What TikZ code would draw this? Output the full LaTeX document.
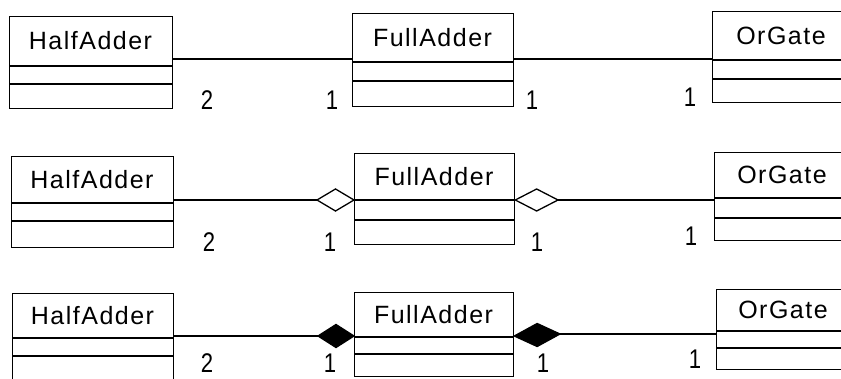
\documentclass[tikz,border=0pt]{standalone}
\usepackage{fontspec}
\setmainfont{Liberation Sans}
\newfontfamily\classfont[LetterSpace=6]{Liberation Sans}
\newfontfamily\multfont[FakeStretch=0.82]{Liberation Sans}
\usetikzlibrary{calc}

\tikzset{
  classframe/.style={draw, line width=1.3pt, inner sep=0pt, rectangle},
  classline/.style={line width=1.3pt},
  classname/.style={font=\classfont\fontsize{25}{30}\selectfont, inner sep=0pt},
  mult/.style={font=\multfont\fontsize{27}{32}\selectfont, inner sep=0pt},
  assoc/.style={line width=1.3pt},
  diamondline/.style={line width=1.3pt, line join=miter},
}

% class box: name, left, top, right, first divider, second divider, bottom, label
\newcommand{\classbox}[8]{%
  \node[classframe, minimum width={#4-#2}, minimum height={#7-#3}, anchor=north west] (#1) at (#2,#3) {};
  \draw[classline] (#2,#5) -- (#4,#5);
  \draw[classline] (#2,#6) -- (#4,#6);
  \node[classname] (#1-name) at ({(#2+#4)/2},{(#3+#5)/2}) {#8};
}

% diamond between two named tips: style, left tip, right tip, half height
\newcommand{\adiamond}[4]{%
  \draw[diamondline, #1] (#2) -- ($(#2)!0.5!(#3)+(0,#4)$) -- (#3) -- ($(#2)!0.5!(#3)-(0,#4)$) -- cycle;
}

\begin{document}
\begin{tikzpicture}[x=1pt, y=-1pt]
\useasboundingbox (0,0) rectangle (841,379);
\clip (0,0) rectangle (841,379);

% ---------- plain association ----------
\classbox{ha1}{9}{16}{172}{66}{84}{108}{HalfAdder}
\classbox{fa1}{352}{13}{513}{62}{81}{106}{FullAdder}
\classbox{og1}{712}{11}{850}{60}{79}{102}{OrGate}
\coordinate (y1) at (0,59);
\draw[assoc] (ha1.east |- y1) -- (fa1.west |- y1);
\draw[assoc] (fa1.east |- y1) -- (og1.west |- y1);
\node[mult] (m1a) at (207,100) {2};
\node[mult] (m1b) at (332,100) {1};
\node[mult] (m1c) at (532,100) {1};
\node[mult] (m1d) at (690,97) {1};

% ---------- aggregation ----------
\classbox{ha2}{11}{156}{173}{203}{221}{247}{HalfAdder}
\classbox{fa2}{354}{153}{514}{200}{220}{244}{FullAdder}
\classbox{og2}{714}{152}{850}{198}{218}{240}{OrGate}
\coordinate (y2) at (0,200);
\coordinate (d2a) at (317,200);
\coordinate (d2b) at (fa2.west |- y2);
\coordinate (d2c) at (fa2.east |- y2);
\coordinate (d2d) at (558,200);
\adiamond{fill=white}{d2a}{d2b}{11}
\adiamond{fill=white}{d2c}{d2d}{11}
\draw[assoc] (ha2.east |- y2) -- (d2a);
\draw[assoc] (d2d) -- (og2.west |- d2d);
\node[mult] (m2a) at (209,242) {2};
\node[mult] (m2b) at (330,242) {1};
\node[mult] (m2c) at (537,242) {1};
\node[mult] (m2d) at (691,236) {1};

% ---------- composition ----------
\classbox{ha3}{12}{293}{173}{338}{356}{392}{HalfAdder}
\classbox{fa3}{354}{292}{513}{337}{354}{376}{FullAdder}
\classbox{og3}{716}{289}{850}{331}{348}{369}{OrGate}
\coordinate (y3) at (0,336);
\coordinate (d3a) at (318,336);
\coordinate (d3b) at (fa3.west |- y3);
\coordinate (d3c) at (fa3.east |- y3);
\coordinate (d3d) at (560,334);
\adiamond{fill=black}{d3a}{d3b}{11.5}
\adiamond{fill=black}{d3c}{d3d}{11.5}
\draw[assoc] (ha3.east |- y3) -- (d3a);
\draw[assoc] (d3d) -- (og3.west |- d3d);
\node[mult] (m3a) at (207,363) {2};
\node[mult] (m3b) at (330,363) {1};
\node[mult] (m3c) at (543,363) {1};
\node[mult] (m3d) at (695,359) {1};
\end{tikzpicture}
\end{document}
